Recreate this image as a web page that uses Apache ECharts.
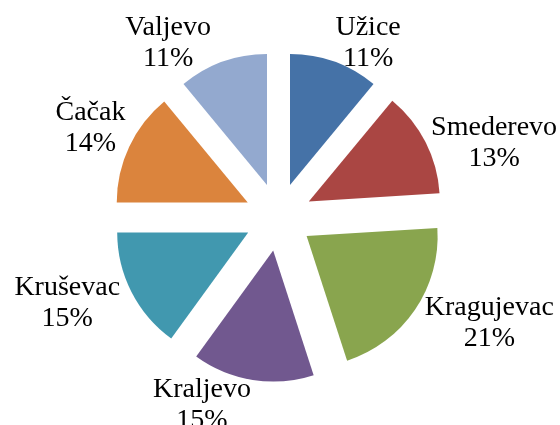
<!DOCTYPE html>
<html>
<head>
<meta charset="utf-8">
<script src="https://cdn.jsdelivr.net/npm/echarts@6/dist/echarts.min.js"></script>
<style>
  html, body { margin: 0; padding: 0; background: #fff; }
  #chart { width: 560px; height: 425px; }
</style>
</head>
<body>
<div id="chart"></div>
<script>
const cities = ['Užice', 'Smederevo', 'Kragujevac', 'Kraljevo', 'Kruševac', 'Čačak', 'Valjevo']
const shares = [11, 13, 21, 15, 15, 14, 11]
const colors = ['#4572A7', '#AA4643', '#89A54E', '#71588F', '#4198AF', '#DB843D', '#93A9CF']

// where each label sits: [angle from 12 o'clock in deg, distance from pie center in px]
const labelSpots = [[27.2, 196], [71, 228], [116.7, 236], [202.1, 203.5], [247.9, 228], [295.3, 208], [327.6, 206]]

const center = [278.5, 217]
const total = shares.reduce((a, b) => a + b, 0)

const chart = echarts.init(document.getElementById('chart'))

// labels placed like the Excel "best fit" ones, text still comes from the data
const labels = cities.map((name, i) => {
  const [ang, dist] = labelSpots[i]
  const a = ang * Math.PI / 180
  return {
    type: 'text',
    x: center[0] + dist * Math.sin(a),
    y: center[1] - dist * Math.cos(a),
    z: 10,
    style: {
      text: name + '\n' + Math.round(shares[i] / total * 100) + '%',
      font: '28px "Liberation Serif"',
      lineHeight: 31,
      fill: '#000',
      align: 'center',
      verticalAlign: 'middle'
    }
  }
})

chart.setOption({
  animation: false,
  graphic: labels,
  series: [{
    type: 'pie',
    center: center,
    radius: 131,
    startAngle: 90,
    clockwise: true,
    selectedMode: 'multiple',
    selectedOffset: 34,
    emphasis: { disabled: true },
    itemStyle: { borderWidth: 0 },
    label: { show: false },
    labelLine: { show: false },
    data: cities.map((name, i) => ({
      name: name,
      value: shares[i],
      selected: true,
      itemStyle: { color: colors[i] }
    }))
  }]
})
</script>
</body>
</html>
